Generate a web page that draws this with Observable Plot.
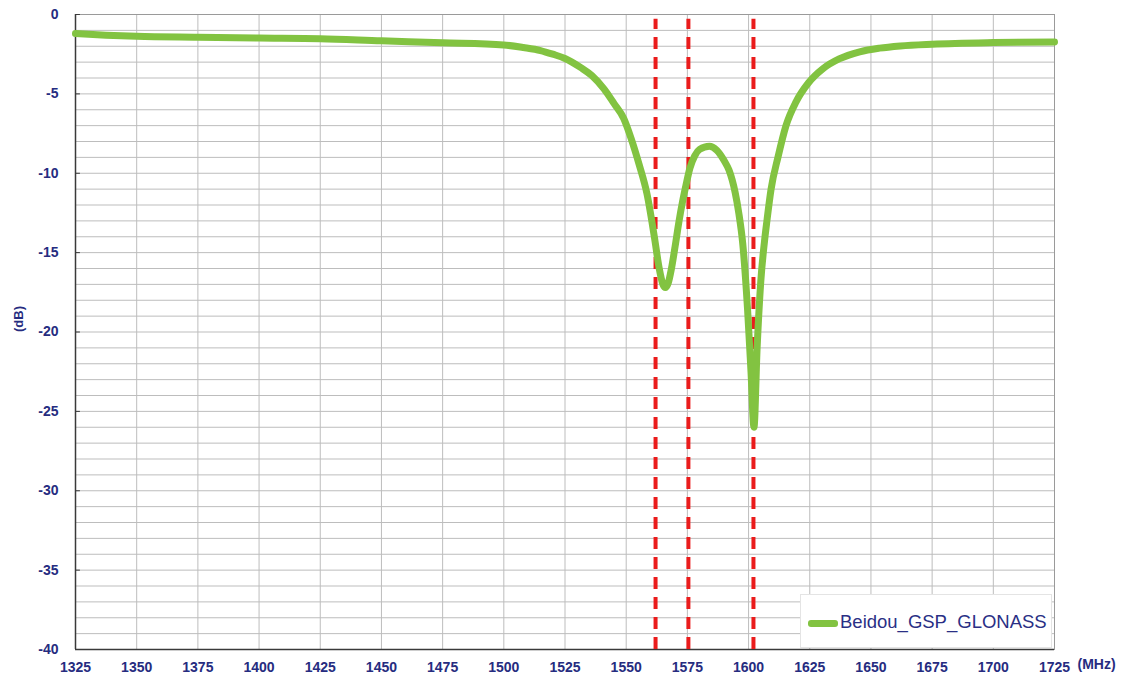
<!DOCTYPE html>
<html>
<head>
<meta charset="utf-8">
<script src="https://cdn.jsdelivr.net/npm/d3@7"></script>
<script src="https://cdn.jsdelivr.net/npm/@observablehq/plot@0.6"></script>
<style>
  html, body { margin: 0; padding: 0; background: #fff; }
  #wrap { position: relative; width: 1130px; height: 681px; font-family: "Liberation Sans", Arial, sans-serif; }
  #legend { position: absolute; left: 800px; top: 594px; width: 252px; height: 54px; background: #fff; border: 1px solid #e4e4e4; box-sizing: border-box; }
  #legend .sw { position: absolute; left: 7px; top: 25px; width: 30px; height: 7px; background: #82c341; border-radius: 3px; }
  #legend .tx { position: absolute; left: 39px; top: 16px; font-size: 18.5px; color: #2a2f85; white-space: nowrap; }
</style>
</head>
<body>
<div id="wrap"><div id="legend"><div class="sw"></div><div class="tx">Beidou_GSP_GLONASS</div></div></div>
<script>
// Frequency (MHz) and response (dB)
const freq = [1325, 1337.5, 1350, 1375, 1400, 1425, 1450, 1475, 1500, 1508, 1515, 1520, 1525, 1531.5, 1536, 1541, 1545, 1549, 1552, 1555.2, 1558.5, 1561.5, 1563.5, 1565, 1566, 1567.2, 1568.5, 1570, 1571.5, 1573, 1574.5, 1576, 1578, 1580, 1584, 1587, 1590, 1592, 1594.5, 1596, 1597.6, 1599.6, 1601, 1602.2, 1603.5, 1605, 1606.5, 1607.5, 1609.2, 1612, 1615.3, 1619.4, 1624.5, 1630.5, 1637, 1645.4, 1653.5, 1662, 1675, 1700, 1725];
const dB   = [-1.2, -1.3, -1.37, -1.43, -1.48, -1.52, -1.66, -1.78, -1.92, -2.08, -2.27, -2.5, -2.77, -3.35, -3.85, -4.7, -5.6, -6.55, -7.8, -9.4, -11.3, -14.0, -16.0, -17.0, -17.2, -16.9, -16.0, -14.6, -13.1, -11.8, -10.7, -9.7, -8.9, -8.5, -8.3, -8.55, -9.2, -9.8, -11.2, -12.5, -14.4, -18.6, -22.5, -26.0, -21.0, -16.8, -14.3, -13.0, -11.0, -9.0, -7.0, -5.5, -4.3, -3.4, -2.8, -2.35, -2.12, -1.98, -1.87, -1.77, -1.73];
const markers = [1562, 1575.42, 1602];
const seriesName = "Beidou_GSP_GLONASS";
const xTicks = [1325, 1350, 1375, 1400, 1425, 1450, 1475, 1500, 1525, 1550, 1575, 1600, 1625, 1650, 1675, 1700, 1725];
const yTicks = [0, -5, -10, -15, -20, -25, -30, -35, -40];
const yGrid = d3.range(-40, 1, 1);

const data = freq.map((f, i) => ({f, v: dB[i]}));
const navy = "#262c80";
document.querySelector("#legend .tx").textContent = seriesName;

const chart = Plot.plot({
  width: 1130,
  height: 681,
  marginLeft: 75,
  marginRight: 76,
  marginTop: 14,
  marginBottom: 32,
  style: {fontFamily: "Liberation Sans, Arial, sans-serif", fontSize: "14px", fontWeight: "bold", color: navy, background: "#fff"},
  x: {type: "linear", domain: [1325, 1725]},
  y: {type: "linear", domain: [-40, 0]},
  marks: [
    Plot.gridY(yGrid, {stroke: "#bdbdbd", strokeOpacity: 1}),
    Plot.gridX(xTicks, {stroke: "#bdbdbd", strokeOpacity: 1}),
    Plot.frame({stroke: "#9a9a9a"}),
    Plot.ruleX([1325], {stroke: "#3a3a3a", strokeWidth: 1.5}),
    Plot.ruleY([-40], {stroke: "#3a3a3a", strokeWidth: 1.5}),
    Plot.ruleY(yTicks, {x1: 1325, x2: 1327, stroke: "#3a3a3a"}),
    Plot.ruleX(markers, {y1: -40, y2: -0.3, stroke: "#ea1c1c", strokeWidth: 4, strokeDasharray: "12,8"}),
    Plot.line(data, {x: "f", y: "v", stroke: "#82c341", strokeWidth: 7, curve: "monotone-x"}),
    Plot.axisX(xTicks, {tickSize: 0, tickPadding: 13, tickFormat: d => String(d), label: null, fill: navy}),
    Plot.axisY(yTicks, {tickSize: 0, tickPadding: 17, tickFormat: d => String(d), label: null, fill: navy}),
    Plot.text(["(dB)"], {frameAnchor: "left", dx: -57, rotate: -90, fill: navy, fontSize: 13}),
    Plot.text(["(MHz)"], {frameAnchor: "bottom-right", textAnchor: "start", dx: 23, dy: 19, fill: navy, fontSize: 14})
  ]
});
document.getElementById("wrap").prepend(chart);
</script>
</body>
</html>
